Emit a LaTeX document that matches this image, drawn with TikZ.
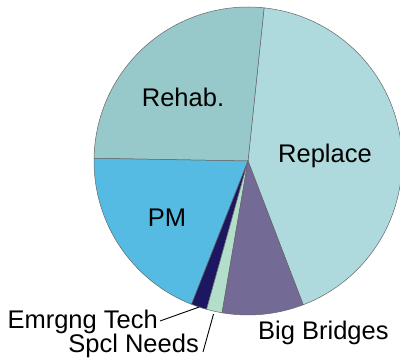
\documentclass[tikz,border=0pt]{standalone}
\usepackage{fontspec}
\setmainfont{Liberation Sans}
\usetikzlibrary{calc}
\definecolor{cRehab}{HTML}{98C9CA}
\definecolor{cReplace}{HTML}{AEDADE}
\definecolor{cPM}{HTML}{56BBE3}
\definecolor{cEmr}{HTML}{1D1762}
\definecolor{cSpcl}{HTML}{B3DECB}
\definecolor{cBig}{HTML}{736B96}
\tikzset{
  slice/.style={draw=black!60, line width=0.5pt},
  lbl/.style={font=\fontsize{25.5}{30}\selectfont, inner sep=0pt},
  leader/.style={draw=black, line width=0.9pt}
}
\begin{document}
\begin{tikzpicture}[x=1pt,y=1pt]
\useasboundingbox (0,0) rectangle (400,364);
\coordinate (c) at (248,203);
\def\R{154}
\filldraw[slice, fill=cReplace] (c) -- ++(291:\R) arc[start angle=291, end angle=444, radius=\R] -- cycle;
\filldraw[slice, fill=cRehab] (c) -- ++(84:\R) arc[start angle=84, end angle=179, radius=\R] -- cycle;
\filldraw[slice, fill=cPM] (c) -- ++(179:\R) arc[start angle=179, end angle=248.5, radius=\R] -- cycle;
\filldraw[slice, fill=cEmr] (c) -- ++(248.5:\R) arc[start angle=248.5, end angle=254.4, radius=\R] -- cycle;
\filldraw[slice, fill=cSpcl] (c) -- ++(254.4:\R) arc[start angle=254.4, end angle=260.3, radius=\R] -- cycle;
\filldraw[slice, fill=cBig] (c) -- ++(260.3:\R) arc[start angle=260.3, end angle=291, radius=\R] -- cycle;

\node[lbl, anchor=base] (rehab) at (183,257) {Rehab.};
\node[lbl, anchor=base] (replace) at (325,201) {Replace};
\node[lbl, anchor=base] (pm) at (167,137) {PM};
\node[lbl, anchor=base east] (emr) at (158,35) {Emrgng Tech};
\node[lbl, anchor=base east] (spcl) at (199,11) {Spcl Needs};
\node[lbl, anchor=base west] (big) at (258,24) {Big Bridges};

\coordinate (emrpt) at ($(c)+(251.5:154)$);
\coordinate (spclpt) at ($(c)+(257.3:157)$);
\coordinate (emrend) at ($(emr.base east)+(2,8)$);
\coordinate (spclend) at ($(spcl.base east)+(4,1)$);
\draw[leader] (emrend) -- (emrpt);
\draw[leader] (spclend) -- (spclpt);
\end{tikzpicture}
\end{document}
